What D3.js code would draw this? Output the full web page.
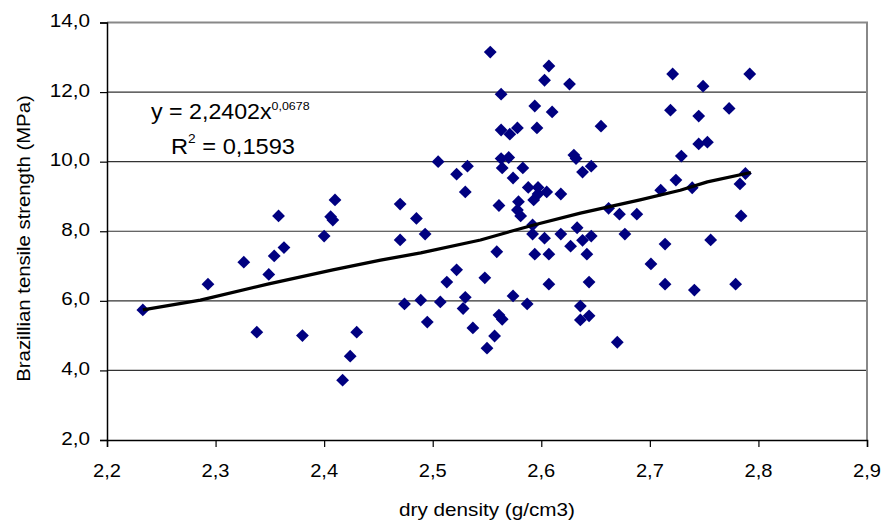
<!DOCTYPE html>
<html><head><meta charset="utf-8">
<script src="https://cdn.jsdelivr.net/npm/d3@7"></script>
<style>
html,body{margin:0;padding:0;background:#fff;}
text{font-family:"Liberation Sans",Arial,sans-serif;fill:#000;}
</style></head>
<body><svg id="c" width="885" height="524"></svg>
<script>
// dry density (g/cm3)
const density = [
2.233,2.293,2.326,2.338,2.349,2.354,2.358,2.363,2.380,2.400,2.406,2.408,2.410,2.417,2.424,2.430,
2.470,2.470,2.474,2.485,2.489,2.493,2.495,2.505,2.507,2.513,2.522,2.522,2.528,2.530,2.530,2.532,
2.537,2.548,2.550,2.553,2.557,2.559,2.561,2.561,2.563,2.563,2.563,2.564,2.564,2.570,2.571,2.574,
2.574,2.578,2.578,2.579,2.581,2.583,2.587,2.588,2.592,2.592,2.593,2.594,2.594,2.596,2.597,2.603,
2.603,2.605,2.607,2.607,2.607,2.610,2.618,2.618,2.626,2.627,2.630,2.632,2.633,2.636,2.636,2.638,
2.638,2.642,2.644,2.644,2.646,2.646,2.655,2.662,2.670,2.672,2.677,2.688,2.701,2.710,2.714,2.714,
2.719,2.721,2.724,2.729,2.739,2.741,2.745,2.745,2.749,2.753,2.756,2.773,2.779,2.783,2.784,2.788,
2.792,2.597];
// Brazilian tensile strength (MPa)
const strength = [
5.74,6.48,7.11,5.10,6.76,7.29,8.44,7.53,5.00,7.86,8.42,8.32,8.90,3.72,4.41,5.10,
8.78,7.75,5.91,8.37,6.02,7.92,5.39,10.00,5.97,6.54,6.89,9.64,5.78,6.10,9.13,9.87,
5.22,6.66,4.64,13.15,4.99,7.41,5.59,8.74,11.94,10.91,10.09,9.82,5.47,10.12,10.79,9.53,
6.14,10.97,8.61,8.85,8.44,9.82,5.91,9.26,8.18,7.92,8.90,11.60,7.34,10.97,9.26,12.34,
7.80,9.13,12.75,7.34,6.48,11.43,7.92,9.07,12.23,7.57,10.19,10.09,8.10,5.85,5.45,9.70,
7.74,7.34,6.54,5.57,9.87,7.86,11.02,8.66,4.81,8.49,7.92,8.49,7.06,9.18,7.63,6.48,
11.48,12.52,9.47,10.16,9.25,6.31,11.31,10.51,12.17,10.56,7.75,11.53,6.48,9.36,8.44,9.66,
12.52,9.07];
// power trendline
const trendX = [2.233,2.286,2.348,2.408,2.452,2.489,2.544,2.593,2.636,2.691,2.728,2.753,2.793];
const trendY = [5.74,6.02,6.48,6.89,7.17,7.38,7.75,8.18,8.52,8.90,9.18,9.42,9.69];
const xTicks = [2.2,2.3,2.4,2.5,2.6,2.7,2.8,2.9];
const yTicks = [2,4,6,8,10,12,14];
const xTitle = "dry density (g/cm3)";
const yTitle = "Brazillian tensile strength (MPa)";
const eqMain = "y = 2,2402x", eqExp = "0,0678";
const r2Main = "R", r2Exp = "2", r2Rest = " = 0,1593";

const svg = d3.select("#c");
const L=107, R=867, T=22.5, B=440;
const x = d3.scaleLinear().domain([2.2,2.9]).range([L,R]);
const y = d3.scaleLinear().domain([2,14]).range([B,T]);
const fmt = d3.formatLocale({decimal:",",thousands:".",grouping:[3],currency:["",""]}).format(".1f");
const SX = 1.15; // horizontal stretch of the original rendering

// gridlines
svg.append("g").selectAll("line").data(yTicks.filter(v=>v>2&&v<14)).join("line")
  .attr("x1",L).attr("x2",R).attr("y1",d=>y(d)).attr("y2",d=>y(d))
  .attr("stroke","#333").attr("stroke-width",1.2);
// plot border top/right (gray)
svg.append("path").attr("d",`M${L},${y(14)}H${R}V${B}`).attr("fill","none")
  .attr("stroke","#888").attr("stroke-width",2);

// axes (lines + ticks from d3 axes, labels drawn stretched)
const gy = svg.append("g").attr("transform",`translate(${L},0)`)
  .call(d3.axisLeft(y).tickValues(yTicks).tickFormat("").tickSize(7));
const gx = svg.append("g").attr("transform",`translate(0,${B})`)
  .call(d3.axisBottom(x).tickValues(xTicks).tickFormat("").tickSize(7));
[gx,gy].forEach(g=>{
  g.select(".domain").attr("stroke","#000").attr("stroke-width",1.5);
  g.selectAll(".tick line").attr("stroke","#000").attr("stroke-width",1.2);
});
svg.append("g").selectAll("text").data(yTicks).join("text")
  .attr("transform",d=>`translate(90,${y(d)+4.5}) scale(${SX},1)`)
  .attr("text-anchor","end").attr("font-size",18).text(fmt);
svg.append("g").selectAll("text").data(xTicks).join("text")
  .attr("transform",d=>`translate(${x(d)},476.5) scale(${SX},1)`)
  .attr("text-anchor","middle").attr("font-size",17.5).text(fmt);

// points
const pts = density.map((d,i)=>({x:d,y:strength[i]}));
svg.append("g").selectAll("path").data(pts).join("path")
  .attr("d",d3.symbol(d3.symbolSquare,82)())
  .attr("transform",d=>`translate(${x(d.x)},${y(d.y)}) rotate(45)`)
  .attr("fill","#000080");

// trendline
const tr = trendX.map((d,i)=>[d,trendY[i]]);
svg.append("path").datum(tr)
  .attr("d",d3.line().x(d=>x(d[0])).y(d=>y(d[1])))
  .attr("fill","none").attr("stroke","#000").attr("stroke-width",3.2)
  .attr("stroke-linejoin","round");

// equation
const eq = svg.append("text").attr("transform",`translate(151,119) scale(1.08,1)`).attr("font-size",21.5);
eq.append("tspan").text(eqMain);
eq.append("tspan").attr("dy",-9.5).attr("font-size",11.5).text(eqExp);
const r2 = svg.append("text").attr("transform",`translate(171,153.5) scale(1.1,1)`).attr("font-size",21.5);
r2.append("tspan").text(r2Main);
r2.append("tspan").attr("dy",-11).attr("font-size",12.5).text(r2Exp);
r2.append("tspan").attr("dy",11).text(r2Rest);

// titles
svg.append("text").attr("transform",`translate(${(L+R)/2},516) scale(${SX},1)`).attr("text-anchor","middle")
  .attr("font-size",18).text(xTitle);
svg.append("text").attr("transform",`translate(29.5,238.5) rotate(-90) scale(1.16,1)`).attr("text-anchor","middle")
  .attr("font-size",17.5).text(yTitle);
</script></body></html>
